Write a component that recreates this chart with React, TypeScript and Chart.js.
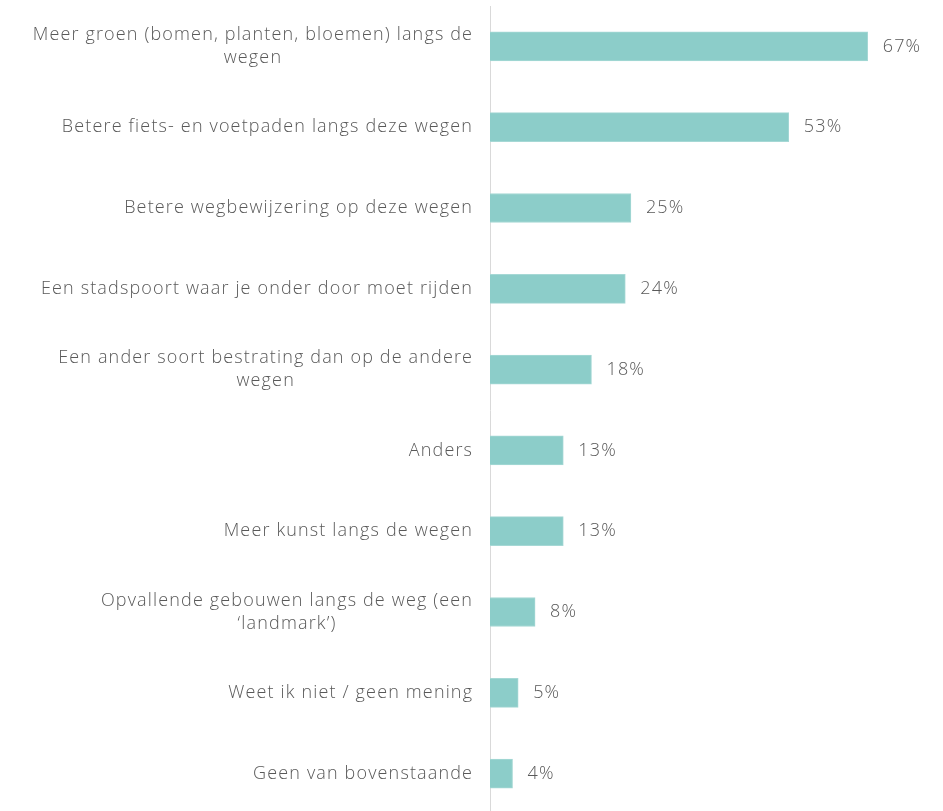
import React, { useEffect, useRef } from "react";
import { Chart, registerables } from "chart.js";

Chart.register(...registerables);

const categories: string[][] = [
  ["Meer groen (bomen, planten, bloemen) langs de", "wegen"],
  ["Betere fiets- en voetpaden langs deze wegen"],
  ["Betere wegbewijzering op deze wegen"],
  ["Een stadspoort waar je onder door moet rijden"],
  ["Een ander soort bestrating dan op de andere", "wegen"],
  ["Anders"],
  ["Meer kunst langs de wegen"],
  ["Opvallende gebouwen langs de weg (een", "\u2018landmark\u2019)"],
  ["Weet ik niet / geen mening"],
  ["Geen van bovenstaande"],
];

const values: number[] = [67, 53, 25, 24, 18, 13, 13, 8, 5, 4];

const FONT = "300 18px 'Open Sans', sans-serif";
const TEXT_COLOR = "#595959";
const SPACING = 1.15;

const labelPlugin = {
  id: "customLabels",
  afterDraw(chart: any) {
    const ctx = chart.ctx;
    const yScale = chart.scales.y;
    const xScale = chart.scales.x;
    ctx.save();
    ctx.font = FONT;
    try {
      (ctx as any).letterSpacing = SPACING + "px";
    } catch (e) {}
    ctx.fillStyle = TEXT_COLOR;
    ctx.textBaseline = "middle";
    const rightEdge = chart.chartArea.left - 18 + SPACING;
    const lineH = 23;
    categories.forEach((lines, i) => {
      const cy = yScale.getPixelForValue(i);
      const widths = lines.map((l) => ctx.measureText(l).width);
      const bw = Math.max(...widths);
      const cx = rightEdge - bw / 2;
      ctx.textAlign = "center";
      const startY = cy - ((lines.length - 1) * lineH) / 2;
      lines.forEach((l, j) => {
        ctx.fillText(l, cx, startY + j * lineH);
      });
      ctx.textAlign = "left";
      const vx = xScale.getPixelForValue(values[i]) + 15;
      ctx.fillText(values[i] + "%", vx, cy);
    });
    ctx.restore();
  },
};

export default function App() {
  const ref = useRef<HTMLCanvasElement | null>(null);
  useEffect(() => {
    document.body.style.margin = "0";
    document.body.style.overflow = "hidden";
    if (!ref.current) return;
    const chart = new Chart(ref.current, {
      type: "bar",
      data: {
        labels: categories.map((c) => c.join(" ")),
        datasets: [
          {
            data: values,
            backgroundColor: "#8ccdc9",
            borderColor: "#a6d8d5",
            borderWidth: 1,
            barThickness: 29,
          },
        ],
      },
      options: {
        indexAxis: "y",
        animation: false,
        responsive: false,
        layout: { padding: { left: 490, top: 6, right: 2, bottom: 0 } },
        plugins: {
          legend: { display: false },
          tooltip: { enabled: false },
        },
        scales: {
          x: { display: false, min: 0, max: 80 },
          y: {
            grid: { display: false, drawTicks: false },
            border: { display: true, color: "#d9d9d9", width: 1 },
            ticks: { display: false },
          },
        },
      },
      plugins: [labelPlugin],
    });
    return () => chart.destroy();
  }, []);
  return (
    <div style={{ width: 943, height: 811, overflow: "hidden" }}>
      <canvas ref={ref} width={943} height={814} />
    </div>
  );
}
